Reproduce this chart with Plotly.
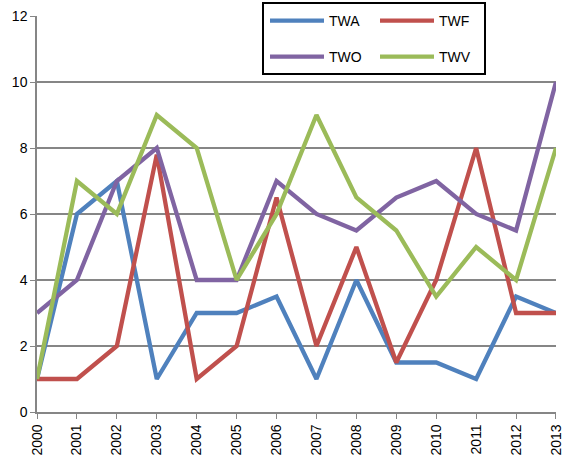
import plotly.graph_objects as go

years = [2000, 2001, 2002, 2003, 2004, 2005, 2006, 2007, 2008, 2009, 2010, 2011, 2012, 2013]
year_labels = [str(y) for y in years]
twa = [1, 6, 7, 1, 3, 3, 3.5, 1, 4, 1.5, 1.5, 1, 3.5, 3]
twf = [1, 1, 2, 7.8, 1, 2, 6.5, 2, 5, 1.5, 4, 8, 3, 3]
two = [3, 4, 7, 8, 4, 4, 7, 6, 5.5, 6.5, 7, 6, 5.5, 10]
twv = [1, 7, 6, 9, 8, 4, 6, 9, 6.5, 5.5, 3.5, 5, 4, 8]

colors = {"TWA": "#4F81BD", "TWF": "#C0504D", "TWO": "#8064A2", "TWV": "#9BBB59"}

fig = go.Figure()
series = [("TWA", twa, "legend"), ("TWF", twf, "legend"), ("TWO", two, "legend2"), ("TWV", twv, "legend2")]
for name, vals, lg in series:
    fig.add_trace(go.Scatter(x=years, y=vals, mode="lines", name=name, legend=lg,
                             line=dict(color=colors[name], width=4.3)))

font = dict(family="Liberation Sans, Arial, sans-serif", size=14, color="#000000")

legend_common = dict(orientation="h", x=(265 - 37) / 519, xanchor="left", yanchor="middle",
                     entrywidth=41, entrywidthmode="pixels", itemwidth=54,
                     bgcolor="rgba(0,0,0,0)", font=font, tracegroupgap=0)

fig.update_layout(
    width=563, height=460,
    margin=dict(l=37, r=7, t=16, b=48, autoexpand=False),
    paper_bgcolor="white", plot_bgcolor="white",
    font=font,
    showlegend=True,
    legend=dict(y=(412 - 21) / 396, **legend_common),
    legend2=dict(y=(412 - 57) / 396, **legend_common),
    shapes=[dict(type="rect", xref="paper", yref="paper",
                 x0=(263 - 37) / 519, x1=(485 - 37) / 519,
                 y0=(412 - 74) / 396, y1=(412 - 3) / 396,
                 line=dict(color="black", width=2), fillcolor="white", layer="above")],
    xaxis=dict(range=[1999.9995, 2013.0005], tickmode="array", tickvals=years, ticktext=year_labels,
               tickangle=-90, ticks="outside", ticklen=5, tickcolor="#868686",
               ticklabeloverflow="allow",
               showgrid=False, showline=True, linecolor="#868686", linewidth=1.5,
               zeroline=False, tickfont=font),
    yaxis=dict(range=[0, 12], dtick=2, ticks="outside", ticklen=5, tickcolor="#868686",
               showgrid=True, gridcolor="#868686", gridwidth=1.5,
               showline=True, linecolor="#868686", linewidth=1.5,
               zeroline=False, tickfont=font),
)

fig.write_html("out.html", config={"displayModeBar": False},
               post_script="document.body.style.margin='0';document.body.style.overflow='hidden';")
